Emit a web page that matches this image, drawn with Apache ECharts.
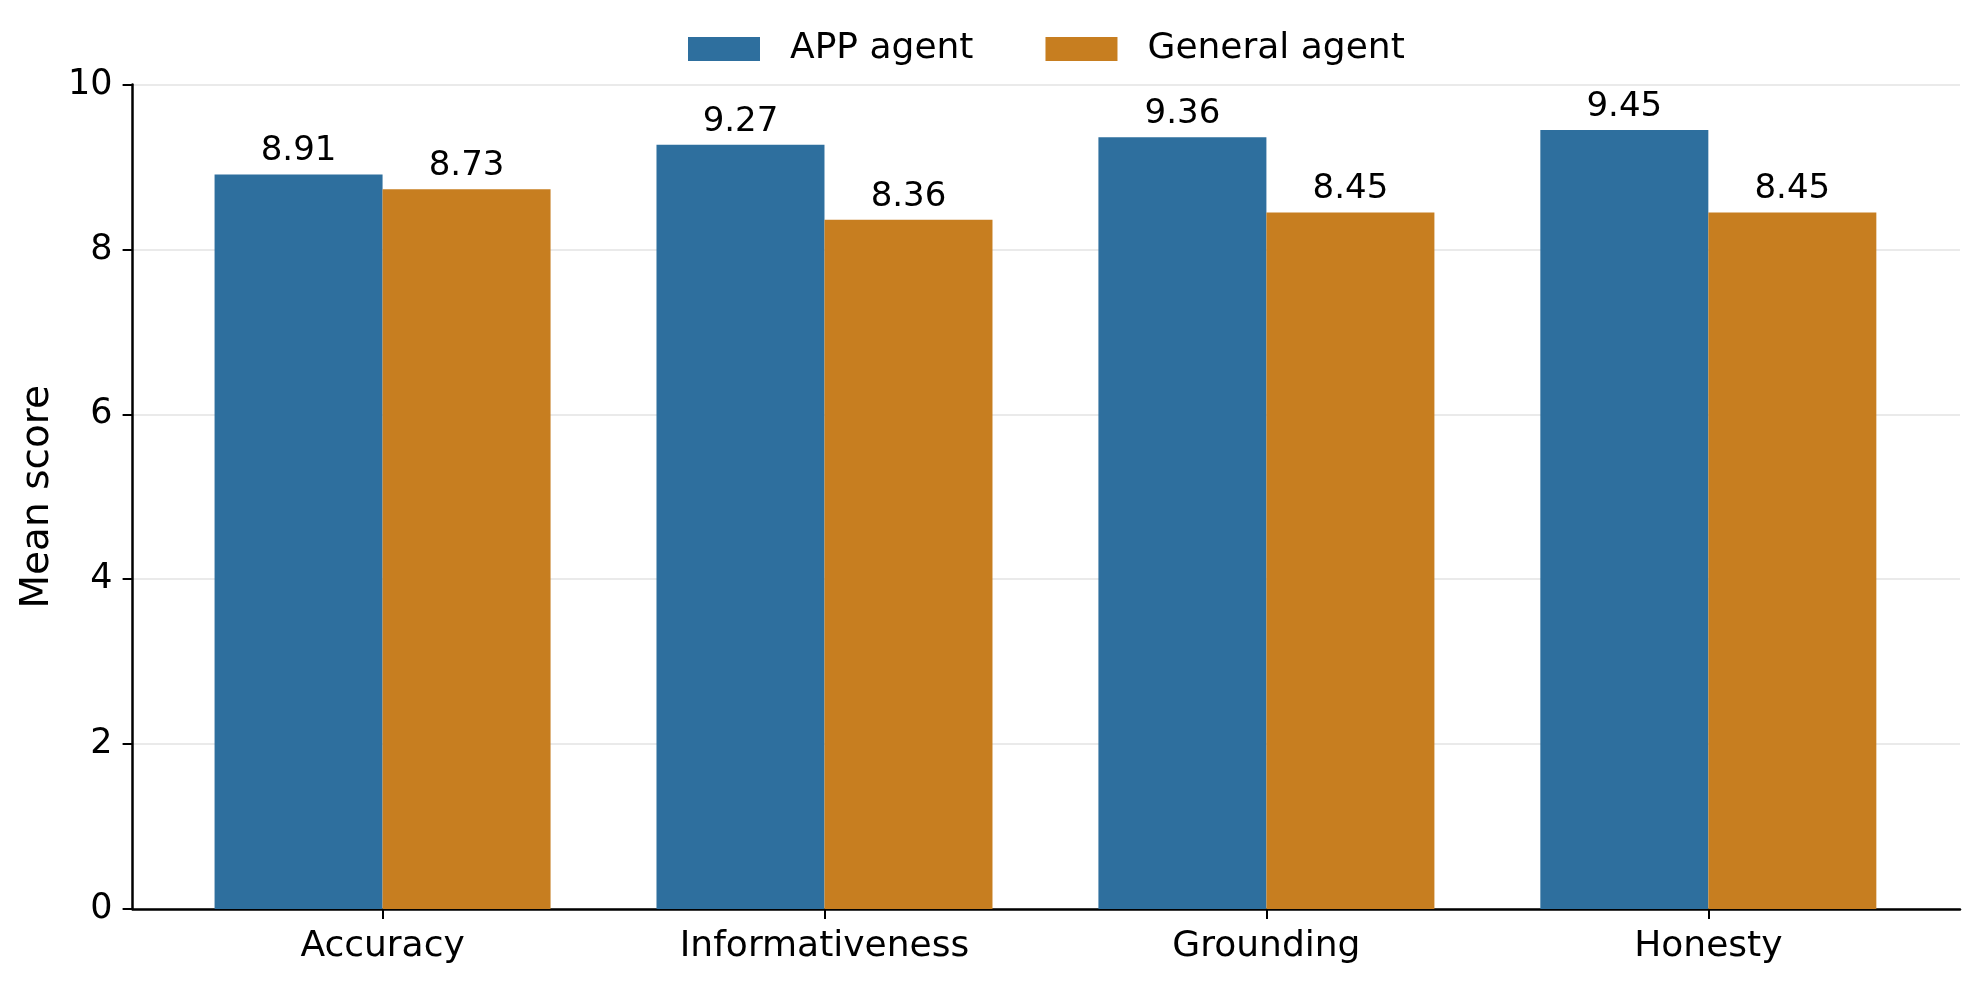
<!DOCTYPE html>
<html lang="en">
<head>
    <meta charset="utf-8">
    <title>Mean score by agent</title>
    <script src="https://cdn.jsdelivr.net/npm/echarts@6/dist/echarts.min.js"></script>
    <style>
        html, body { margin: 0; padding: 0; background: #fff; }
        #chart { width: 1980px; height: 983px; }
    </style>
</head>
<body>
<div id="chart"></div>
<script type="application/javascript">
    var categories = ['Accuracy', 'Informativeness', 'Grounding', 'Honesty'];
    var seriesNames = ['APP agent', 'General agent'];
    var appAgent = [8.91, 9.27, 9.36, 9.45];
    var generalAgent = [8.73, 8.36, 8.45, 8.45];
    var yTicks = [0, 2, 4, 6, 8, 10];

    var FONT = 'DejaVu Sans';
    var chart = echarts.init(document.getElementById('chart'));

    var barLabel = {
        show: true,
        position: 'top',
        distance: 6,
        color: '#000',
        fontFamily: FONT,
        fontSize: 34,
        formatter: function (p) { return p.value.toFixed(2); }
    };

    chart.setOption({
        animation: false,
        backgroundColor: '#fff',
        legend: {
            data: seriesNames,
            left: 683,
            top: 26,
            itemWidth: 72,
            itemHeight: 24,
            itemGap: 72,
            icon: 'rect',
            textStyle: {
                fontFamily: FONT,
                fontSize: 36,
                color: '#000',
                lineHeight: 36,
                padding: [0, 0, 0, 25]
            }
        },
        grid: [
            // outer frame: y axis, grid lines, full-width x axis line
            { left: 132.6, right: 20, top: 84.6, bottom: 74 },
            // inner band where the category bars live (matplotlib margins)
            { left: 161.6, right: 50.7, top: 84.6, bottom: 74 }
        ],
        xAxis: [
            {
                gridIndex: 0,
                type: 'value',
                min: 0,
                max: 1,
                axisLine: { show: true, lineStyle: { color: '#000', width: 2.5 } },
                axisTick: { show: false },
                axisLabel: { show: false },
                splitLine: { show: false }
            },
            {
                gridIndex: 1,
                type: 'category',
                data: categories,
                axisLine: { show: false },
                axisTick: { show: true, alignWithLabel: true, length: 10, lineStyle: { color: '#000', width: 2 } },
                axisLabel: { color: '#000', fontFamily: FONT, fontSize: 36, margin: 20 },
                splitLine: { show: false }
            }
        ],
        yAxis: [
            {
                gridIndex: 0,
                type: 'value',
                min: yTicks[0],
                max: yTicks[yTicks.length - 1],
                interval: 2,
                name: 'Mean score',
                nameLocation: 'middle',
                nameGap: 74,
                nameTextStyle: { color: '#000', fontFamily: FONT, fontSize: 39 },
                axisLine: { show: true, lineStyle: { color: '#000', width: 2.5 } },
                axisTick: { show: true, length: 10, lineStyle: { color: '#000', width: 2 } },
                axisLabel: { color: '#000', fontFamily: FONT, fontSize: 35, margin: 20 },
                splitLine: { show: true, lineStyle: { color: '#e3e3e3', width: 1.5 } }
            },
            {
                gridIndex: 1,
                type: 'value',
                min: yTicks[0],
                max: yTicks[yTicks.length - 1],
                show: false
            }
        ],
        series: [
            {
                name: seriesNames[0],
                type: 'bar',
                xAxisIndex: 1,
                yAxisIndex: 1,
                data: appAgent,
                barWidth: 168,
                barGap: '0%',
                itemStyle: { color: '#2e6f9e' },
                label: barLabel
            },
            {
                name: seriesNames[1],
                type: 'bar',
                xAxisIndex: 1,
                yAxisIndex: 1,
                data: generalAgent,
                barWidth: 168,
                barGap: '0%',
                itemStyle: { color: '#c77e20' },
                label: barLabel
            }
        ]
    });
</script>
</body>
</html>
